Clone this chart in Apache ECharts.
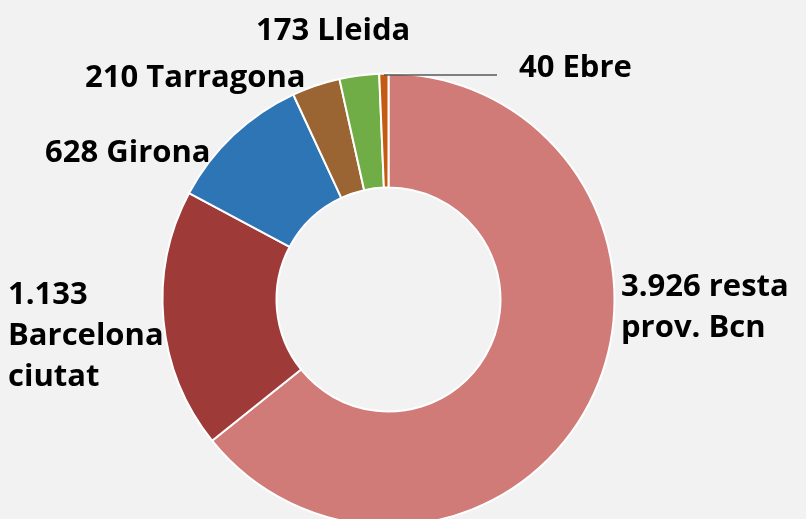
<!DOCTYPE html>
<html>
<head>
<meta charset="utf-8">
<script src="https://cdn.jsdelivr.net/npm/echarts@6/dist/echarts.min.js"></script>
<style>
  html, body { margin: 0; padding: 0; background: #f2f2f2; }
  #chart { width: 806px; height: 519px; }
</style>
</head>
<body>
<div id="chart"></div>
<script>
// comarques, clockwise from 12 o'clock
var names = ['resta\nprov. Bcn', 'Barcelona\nciutat', 'Girona', 'Tarragona', 'Lleida', 'Ebre'];
var values = [3926, 1133, 628, 210, 173, 40];
var valueLabels = ['3.926', '1.133', '628', '210', '173', '40'];
var colors = ['#d07b78', '#9e3b39', '#2e75b6', '#9a6433', '#70ad47', '#c55a11'];

// where each label sits (left edge, vertical middle)
var labelSpots = [
  [621, 308], [8, 336], [45, 153], [85, 78], [256, 31], [519, 68]
];

var chart = echarts.init(document.getElementById('chart'));

chart.setOption({
  backgroundColor: '#f2f2f2',
  animation: false,
  // leader for the tiny Ebre slice, drawn over the ring
  graphic: [
    {
      type: 'line',
      z: 100,
      shape: { x1: 384, y1: 75, x2: 497, y2: 75 },
      style: { stroke: '#595959', lineWidth: 1.5 }
    }
  ],
  series: [
    {
      type: 'pie',
      center: [388.5, 299.5],
      radius: [112, 226],
      startAngle: 90,
      clockwise: true,
      avoidLabelOverlap: false,
      itemStyle: {
        borderColor: '#ffffff',
        borderWidth: 2
      },
      label: {
        show: true,
        position: 'outside',
        color: '#000',
        fontFamily: 'Open Sans',
        fontWeight: 'bold',
        fontSize: 31,
        lineHeight: 41,
        formatter: function (p) {
          if (p.dataIndex === 0) return valueLabels[0] + ' resta\nprov. Bcn'
          if (p.dataIndex === 1) return valueLabels[1] + '\nBarcelona\nciutat'
          return valueLabels[p.dataIndex] + ' ' + p.name
        }
      },
      labelLine: { show: false },
      labelLayout: function (p) {
        var s = labelSpots[p.dataIndex];
        return { x: s[0], y: s[1], align: 'left', verticalAlign: 'middle' }
      },
      data: values.map(function (v, i) {
        return { name: names[i], value: v, itemStyle: { color: colors[i] } }
      })
    }
  ]
});
</script>
</body>
</html>
